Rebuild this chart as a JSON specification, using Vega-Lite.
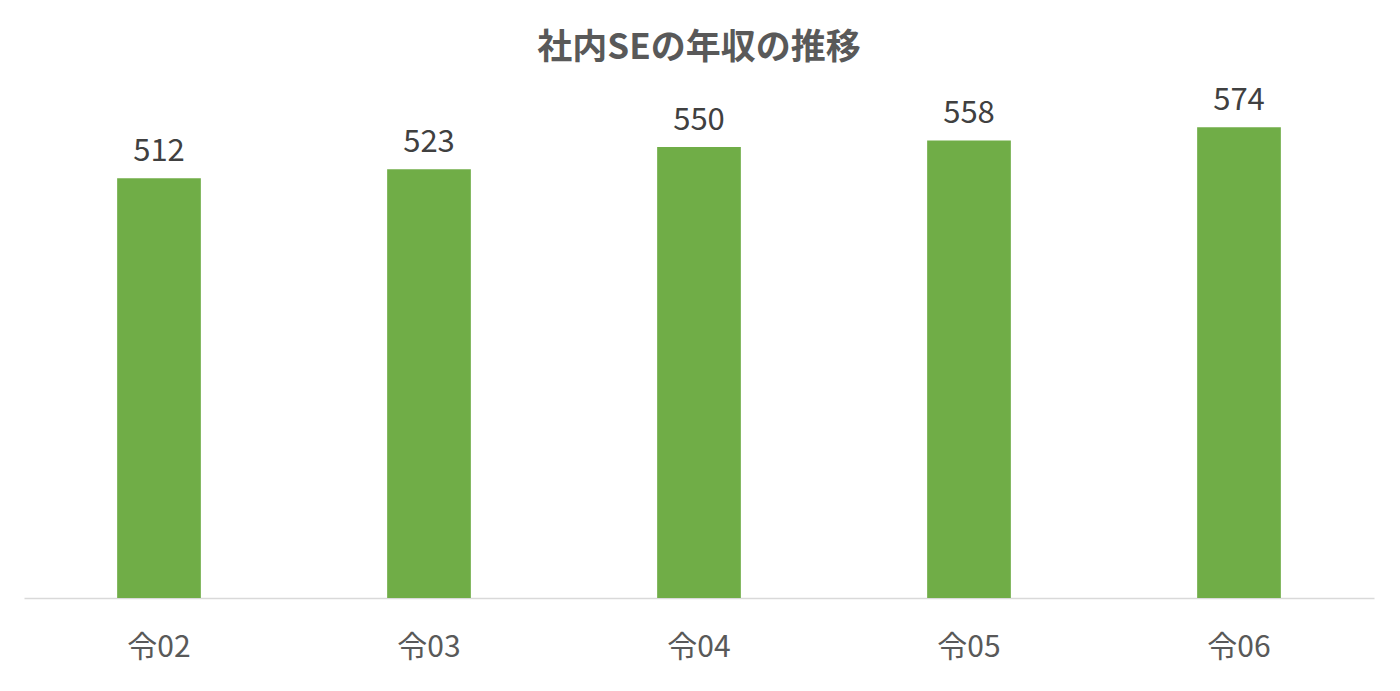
{
  "$schema": "https://vega.github.io/schema/vega-lite/v6.json",
  "width": 1350,
  "height": 574,
  "autosize": "none",
  "padding": {"left": 24, "top": 24, "right": 26, "bottom": 93},
  "background": "white",
  "title": {
    "text": "社内SEの年収の推移",
    "font": "Noto Sans CJK JP",
    "fontSize": 35,
    "fontWeight": "bold",
    "color": "#595959",
    "anchor": "middle",
    "baseline": "middle",
    "offset": -59
  },
  "config": {
    "view": {"stroke": null},
    "font": "Noto Sans CJK JP"
  },
  "data": {
    "values": [
      {"year": "令02", "salary": 512},
      {"year": "令03", "salary": 523},
      {"year": "令04", "salary": 550},
      {"year": "令05", "salary": 558},
      {"year": "令06", "salary": 574}
    ]
  },
  "encoding": {
    "x": {
      "field": "year",
      "type": "nominal",
      "sort": null,
      "scale": {"paddingInner": 0.69, "paddingOuter": 0.345},
      "axis": {
        "title": null,
        "labelAngle": 0,
        "labelFontSize": 30,
        "labelColor": "#595959",
        "labelPadding": 34,
        "ticks": false,
        "domainColor": "#d9d9d9",
        "domainWidth": 1.5
      }
    },
    "y": {
      "field": "salary",
      "type": "quantitative",
      "scale": {"domain": [0, 700]},
      "axis": null
    }
  },
  "layer": [
    {"mark": {"type": "bar", "color": "#70ad47"}},
    {
      "mark": {
        "type": "text",
        "baseline": "bottom",
        "dy": -10,
        "fontSize": 31,
        "color": "#404040"
      },
      "encoding": {"text": {"field": "salary", "type": "quantitative"}}
    }
  ]
}
